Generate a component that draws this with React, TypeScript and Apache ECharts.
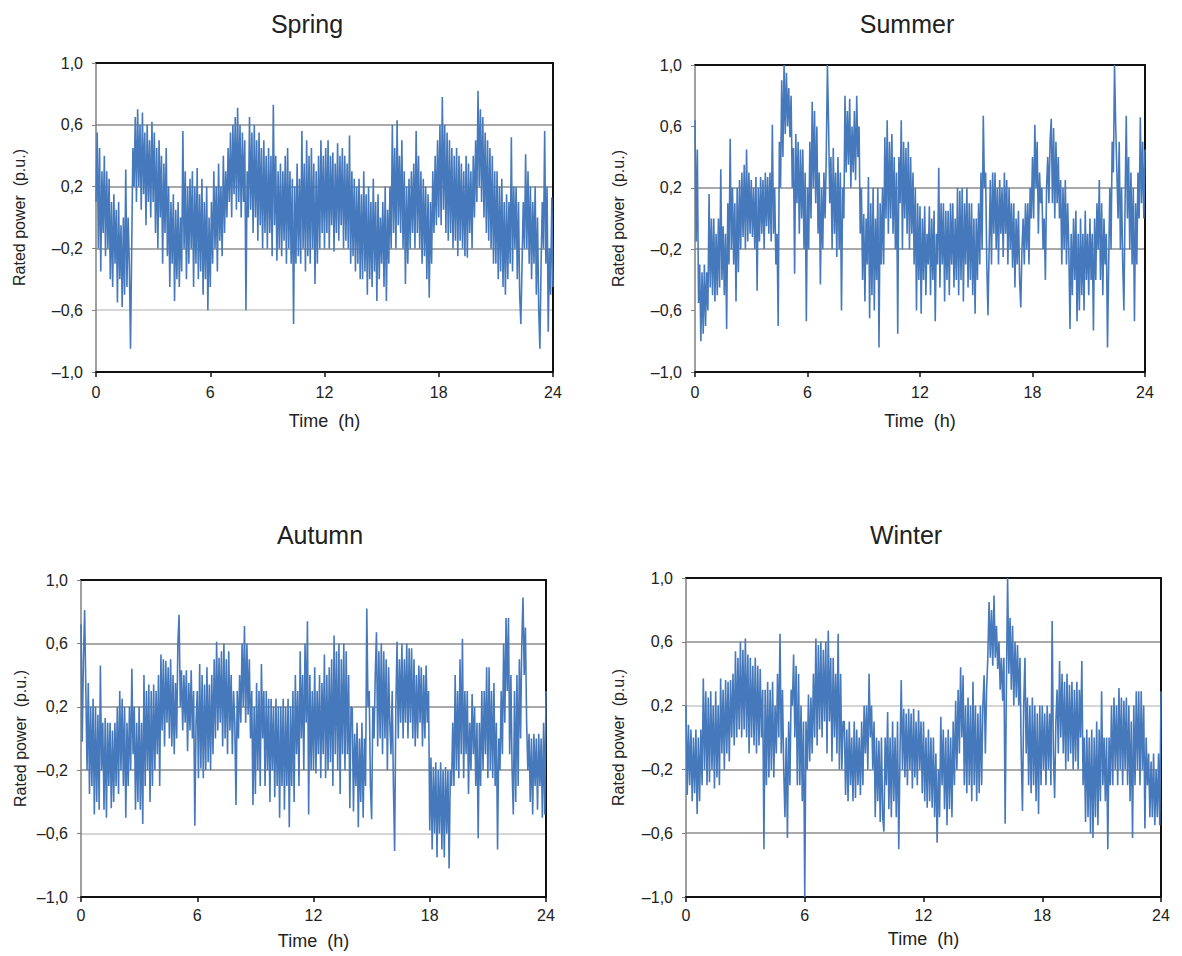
import React, { useEffect, useRef } from "react";
import * as echarts from "echarts";

const X_TICKS = [0, 6, 12, 18, 24];
const Y_TICKS = [-1.0, -0.6, -0.2, 0.2, 0.6, 1.0];
const TITLES = ["Spring", "Summer", "Autumn", "Winter"];

// rated power (p.u.), 16 readings per hour from 0 h to 24 h
const spring = [
  0.1, 0.55, -0.2, 0.45, -0.35, 0.3, -0.1, 0.4, -0.25, 0.3, -0.2, 0.25, -0.4, 0.1, -0.45, 0.15,
  -0.3, 0.05, -0.55, 0.1, -0.4, -0.05, -0.58, 0.0, -0.5, 0.31, -0.45, 0.0, -0.3, -0.85, -0.2, 0.45,
  0.2, 0.65, 0.1, 0.7, 0.2, 0.6, 0.05, 0.68, 0.15, 0.55, -0.05, 0.6, 0.1, 0.5, 0.0, 0.62,
  0.1, 0.55, -0.1, 0.45, -0.2, 0.5, 0.0, 0.4, -0.3, 0.35, -0.1, 0.45, -0.25, 0.2, -0.45, 0.1,
  -0.3, 0.15, -0.54, 0.05, -0.4, 0.1, -0.45, 0.0, -0.35, 0.56, -0.2, 0.3, -0.4, 0.2, -0.3, 0.25,
  -0.2, 0.3, -0.45, 0.2, -0.3, 0.32, -0.4, 0.15, -0.35, 0.25, -0.5, 0.1, -0.4, 0.2, -0.6, 0.0,
  -0.45, 0.1, -0.3, 0.3, -0.2, 0.2, -0.35, 0.35, -0.15, 0.2, -0.25, 0.4, -0.1, 0.3, 0.0, 0.45,
  0.1, 0.55, 0.0, 0.6, 0.15, 0.65, 0.05, 0.71, 0.1, 0.6, 0.0, 0.55, 0.1, 0.5, -0.6, 0.3,
  0.0, 0.65, 0.05, 0.55, -0.1, 0.6, 0.0, 0.5, -0.15, 0.55, -0.05, 0.45, -0.2, 0.5, -0.1, 0.4,
  -0.2, 0.45, -0.1, 0.4, -0.25, 0.73, -0.05, 0.4, -0.28, 0.3, -0.2, 0.35, -0.25, 0.3, -0.15, 0.4,
  -0.3, 0.45, -0.2, 0.3, -0.3, 0.25, -0.69, 0.2, -0.3, 0.35, -0.25, 0.25, -0.3, 0.56, -0.2, 0.35,
  -0.35, 0.5, -0.25, 0.4, -0.3, 0.45, -0.2, 0.35, -0.43, 0.3, -0.3, 0.4, -0.2, 0.5, -0.1, 0.4,
  -0.2, 0.45, -0.1, 0.5, -0.2, 0.4, -0.05, 0.42, -0.22, 0.35, -0.1, 0.48, -0.15, 0.4, -0.05, 0.45,
  -0.2, 0.4, -0.15, 0.35, -0.2, 0.53, -0.3, 0.3, -0.25, 0.25, -0.35, 0.2, -0.3, 0.25, -0.4, 0.15,
  -0.4, 0.3, -0.35, 0.15, -0.5, 0.2, -0.4, 0.1, -0.45, 0.25, -0.35, 0.1, -0.54, 0.15, -0.4, 0.0,
  -0.3, 0.1, -0.45, 0.2, -0.54, 0.05, -0.3, 0.2, -0.2, 0.6, -0.1, 0.45, -0.2, 0.63, -0.05, 0.4,
  -0.1, 0.5, -0.2, 0.3, -0.43, 0.2, -0.3, 0.25, -0.2, 0.3, -0.1, 0.35, -0.2, 0.56, -0.1, 0.4,
  -0.2, 0.3, -0.3, 0.25, -0.25, 0.2, -0.4, 0.15, -0.52, 0.1, -0.3, 0.3, -0.1, 0.4, -0.05, 0.5,
  0.0, 0.6, -0.05, 0.78, 0.05, 0.6, -0.1, 0.55, -0.15, 0.5, -0.1, 0.45, -0.2, 0.4, -0.15, 0.45,
  -0.25, 0.4, -0.15, 0.35, -0.2, 0.3, -0.25, 0.4, -0.26, 0.35, -0.1, 0.3, -0.2, 0.4, 0.0, 0.5,
  0.1, 0.82, 0.2, 0.7, 0.1, 0.65, 0.0, 0.55, -0.1, 0.5, -0.15, 0.45, -0.2, 0.4, -0.3, 0.3,
  -0.3, 0.3, -0.4, 0.2, -0.35, 0.25, -0.45, 0.1, -0.5, 0.15, -0.4, 0.1, -0.3, 0.52, -0.35, 0.2,
  -0.2, 0.2, -0.4, 0.1, -0.5, -0.69, -0.3, 0.1, -0.2, 0.41, -0.2, 0.3, -0.3, 0.2, -0.4, 0.1,
  -0.3, 0.2, -0.5, 0.0, -0.6, -0.85, -0.3, 0.1, -0.2, 0.56, -0.3, 0.2, -0.74, -0.2, -0.5, 0.13,
  -0.45,
];

const summer = [
  0.64, -0.15, 0.45, -0.55, -0.3, -0.8, -0.35, -0.75, -0.3, -0.7, -0.35, -0.6, 0.16, -0.45, 0.0, -0.5,
  0.0, -0.54, -0.1, -0.5, 0.0, -0.45, 0.32, -0.4, -0.05, -0.5, -0.1, -0.72, 0.1, -0.3, 0.52, -0.2,
  0.2, -0.3, 0.1, -0.54, 0.2, -0.35, 0.25, -0.2, 0.3, -0.12, 0.35, -0.2, 0.45, -0.15, 0.3, -0.1,
  0.25, -0.12, 0.2, -0.2, 0.27, -0.47, 0.2, -0.15, 0.27, -0.1, 0.25, -0.2, 0.3, -0.05, 0.27, -0.1,
  0.3, -0.15, 0.61, -0.1, 0.2, -0.3, -0.1, -0.7, 0.5, 0.2, 0.9, 0.4, 1.0, 0.55, 0.95, 0.6,
  0.85, 0.53, 0.8, 0.2, 0.46, -0.36, 0.55, 0.1, 0.5, -0.1, 0.45, 0.0, 0.45, -0.2, 0.3, -0.67,
  0.2, -0.2, 0.5, 0.0, 0.76, 0.2, 0.7, 0.1, 0.6, -0.1, 0.3, -0.43, 0.2, -0.2, 0.3, 0.0,
  0.4, 1.0, 0.6, 0.1, 0.4, -0.2, 0.46, -0.1, 0.3, -0.25, 0.4, -0.2, 0.3, -0.6, 0.2, 0.0,
  0.8, 0.3, 0.7, 0.35, 0.78, 0.2, 0.6, 0.3, 0.7, 0.25, 0.8, 0.4, 0.6, -0.1, 0.2, -0.4,
  0.03, -0.54, 0.0, -0.3, 0.27, -0.65, 0.1, -0.5, 0.2, -0.6, 0.0, -0.4, 0.2, -0.84, 0.1, -0.3,
  0.2, -0.3, 0.53, 0.0, 0.64, -0.1, 0.5, 0.0, 0.55, -0.1, 0.4, -0.2, 0.3, -0.75, 0.4, 0.1,
  0.64, -0.2, 0.5, 0.0, 0.46, -0.1, 0.5, -0.2, 0.4, -0.1, 0.3, -0.3, 0.2, -0.6, 0.1, -0.4,
  0.08, -0.62, 0.0, -0.4, 0.08, -0.5, -0.1, -0.3, 0.08, -0.5, 0.0, -0.4, 0.05, -0.67, -0.1, -0.3,
  0.33, -0.45, 0.1, -0.3, 0.1, -0.54, 0.05, -0.4, 0.05, -0.5, 0.1, -0.3, 0.1, -0.45, 0.0, -0.4,
  0.2, -0.5, 0.18, -0.4, 0.2, -0.54, 0.1, -0.3, 0.2, -0.45, 0.1, -0.4, 0.1, -0.5, 0.0, -0.62,
  0.0, -0.4, 0.1, -0.3, 0.3, -0.2, 0.67, 0.2, 0.3, -0.3, -0.63, -0.2, 0.25, -0.3, 0.3, -0.1,
  0.3, -0.2, 0.2, -0.3, 0.25, -0.1, 0.2, -0.25, 0.3, -0.1, 0.25, -0.3, 0.2, -0.2, 0.1, -0.32,
  0.1, -0.45, 0.0, -0.3, 0.05, -0.4, -0.58, -0.2, 0.0, -0.3, 0.1, -0.2, 0.1, -0.3, 0.2, 0.0,
  0.4, 0.0, 0.61, 0.2, 0.5, -0.1, 0.3, 0.1, 0.2, -0.2, 0.0, -0.4, 0.2, 0.4, 0.1, 0.5,
  0.65, 0.1, 0.59, 0.0, 0.5, 0.1, 0.4, 0.0, 0.25, -0.3, 0.2, -0.2, 0.25, -0.3, 0.1, -0.2,
  -0.72, -0.1, -0.5, 0.0, -0.4, 0.05, -0.67, -0.1, -0.6, 0.0, -0.5, -0.1, -0.6, 0.05, -0.4, -0.1,
  -0.5, 0.0, -0.4, -0.1, -0.73, 0.0, -0.4, 0.1, -0.2, 0.25, -0.4, 0.1, -0.5, 0.0, -0.3, -0.1,
  -0.84, -0.3, 0.2, -0.2, 0.5, 0.3, 1.0, 0.6, 0.3, 0.0, 0.5, -0.2, 0.2, -0.3, -0.6, 0.1,
  0.67, 0.0, 0.4, -0.2, 0.3, -0.3, 0.2, -0.67, 0.1, -0.3, 0.3, 0.0, 0.66, 0.1, 0.5, 0.0,
  0.45,
];

const autumn = [
  0.72, -0.02, 0.5, 0.81, 0.3, -0.2, 0.35, -0.35, 0.2, -0.3, 0.25, -0.48, 0.2, -0.4, 0.15, -0.45,
  0.46, -0.2, 0.1, -0.45, 0.13, -0.5, 0.1, -0.3, 0.1, -0.44, 0.05, -0.4, 0.1, -0.3, 0.2, -0.35,
  0.3, -0.2, 0.25, -0.3, 0.2, -0.5, 0.1, -0.3, 0.2, -0.2, 0.44, -0.1, 0.2, -0.45, 0.1, -0.4,
  0.2, -0.45, 0.1, -0.54, 0.4, -0.3, 0.3, -0.2, 0.34, -0.4, 0.3, -0.3, 0.34, -0.2, 0.3, -0.1,
  0.4, -0.3, 0.53, 0.05, 0.5, -0.05, 0.49, 0.1, 0.45, 0.0, 0.5, -0.05, 0.4, -0.1, 0.35, 0.0,
  0.6, 0.78, 0.2, 0.43, 0.05, 0.4, 0.1, 0.43, -0.08, 0.35, 0.05, 0.43, 0.0, 0.3, -0.55, 0.1,
  0.3, -0.25, 0.47, -0.19, 0.4, -0.25, 0.34, -0.2, 0.45, -0.15, 0.34, -0.2, 0.4, -0.1, 0.5, 0.0,
  0.61, 0.05, 0.51, 0.1, 0.55, -0.05, 0.6, 0.0, 0.5, -0.1, 0.55, 0.05, 0.4, -0.1, 0.3, 0.1,
  -0.42, 0.3, 0.0, 0.4, 0.1, 0.6, 0.2, 0.71, 0.1, 0.6, 0.15, 0.5, 0.0, 0.3, -0.42, 0.2,
  -0.35, 0.35, -0.2, 0.3, -0.3, 0.47, 0.0, 0.3, -0.3, 0.3, -0.2, 0.25, -0.4, 0.25, -0.2, 0.2,
  -0.37, 0.25, -0.3, 0.2, -0.5, 0.2, -0.3, 0.25, -0.45, 0.2, -0.3, 0.25, -0.56, 0.2, -0.3, 0.3,
  -0.4, 0.4, -0.1, 0.3, -0.3, 0.55, 0.0, 0.4, -0.2, 0.6, 0.1, 0.74, -0.48, 0.4, -0.2, 0.3,
  -0.2, 0.45, -0.22, 0.3, -0.1, 0.4, -0.25, 0.35, -0.1, 0.53, -0.25, 0.4, -0.2, 0.45, -0.15, 0.5,
  -0.3, 0.65, -0.1, 0.55, -0.2, 0.6, -0.35, 0.5, -0.1, 0.6, -0.2, 0.55, -0.1, 0.4, -0.44, 0.2,
  0.19, -0.46, 0.03, -0.3, 0.1, -0.56, 0.0, -0.4, 0.1, -0.5, 0.0, -0.3, 0.82, 0.2, 0.3, -0.3,
  -0.51, 0.2, 0.0, 0.4, 0.67, -0.05, 0.55, 0.0, 0.6, -0.1, 0.55, 0.0, 0.5, -0.2, 0.45, 0.1,
  -0.1, 0.3, -0.3, -0.71, 0.2, 0.61, 0.0, 0.5, 0.1, 0.6, 0.0, 0.5, 0.1, 0.6, 0.0, 0.57,
  0.1, 0.57, 0.0, 0.5, -0.05, 0.4, 0.0, 0.46, 0.1, 0.45, -0.05, 0.4, 0.0, 0.46, 0.1, 0.3,
  -0.58, -0.12, -0.7, -0.18, -0.6, -0.15, -0.75, -0.2, -0.6, -0.15, -0.7, -0.2, -0.75, -0.18, -0.6, -0.2,
  -0.82, -0.2, -0.3, 0.1, -0.3, 0.4, -0.2, 0.3, -0.25, 0.5, -0.1, 0.63, -0.25, 0.3, -0.1, 0.3,
  -0.35, 0.1, -0.2, 0.28, -0.1, 0.2, -0.3, 0.1, -0.63, 0.1, -0.3, 0.3, -0.2, 0.3, -0.1, 0.45,
  -0.25, 0.45, -0.2, 0.3, -0.25, 0.35, -0.3, 0.1, -0.7, 0.0, -0.2, 0.3, -0.1, 0.6, 0.1, 0.76,
  0.3, 0.76, -0.1, 0.4, -0.2, -0.48, 0.3, -0.4, 0.4, -0.3, 0.5, 0.0, 0.6, 0.89, 0.4, 0.7,
  0.1, -0.2, 0.03, -0.4, 0.0, -0.48, 0.03, -0.3, 0.0, -0.45, 0.03, -0.3, 0.0, -0.5, 0.1, -0.48,
  0.3,
];

const winter = [
  0.2, -0.36, 0.08, -0.3, 0.05, -0.4, 0.0, -0.35, 0.05, -0.48, 0.0, -0.4, 0.05, -0.3, 0.37, -0.2,
  0.29, -0.3, 0.25, -0.28, 0.29, -0.2, 0.2, -0.32, 0.29, -0.25, 0.2, -0.3, 0.37, -0.1, 0.3, -0.2,
  0.36, -0.1, 0.35, -0.15, 0.36, 0.0, 0.4, -0.05, 0.54, 0.0, 0.5, 0.05, 0.6, 0.0, 0.55, 0.05,
  0.62, 0.0, 0.52, -0.1, 0.5, 0.0, 0.45, -0.05, 0.5, -0.1, 0.45, -0.05, 0.43, 0.0, 0.3, -0.7,
  0.3, -0.3, 0.35, -0.25, 0.3, -0.2, 0.35, -0.25, 0.2, -0.1, 0.4, 0.0, 0.65, -0.1, 0.3, -0.2,
  -0.5, 0.0, -0.63, 0.1, -0.3, 0.3, 0.2, 0.52, 0.0, 0.45, -0.3, 0.4, -0.3, 0.2, -0.4, 0.1,
  -1.0, 0.1, -0.2, 0.27, -0.15, 0.25, -0.1, 0.4, 0.0, 0.62, -0.05, 0.58, 0.05, 0.6, 0.0, 0.55,
  0.1, 0.6, -0.1, 0.67, 0.1, 0.5, -0.15, 0.5, 0.0, 0.4, -0.1, 0.65, -0.2, 0.4, -0.2, 0.1,
  0.1, -0.36, 0.05, -0.4, 0.1, -0.3, 0.0, -0.4, 0.1, -0.38, 0.05, -0.3, 0.0, -0.36, 0.1, -0.3,
  0.2, -0.1, 0.2, -0.2, 0.4, 0.0, 0.2, -0.2, 0.1, -0.5, 0.0, -0.4, -0.02, -0.53, 0.0, -0.5,
  -0.59, 0.0, -0.3, 0.16, -0.45, 0.0, -0.5, 0.1, -0.4, 0.0, -0.5, 0.1, -0.7, -0.1, 0.36, -0.2,
  0.18, -0.25, 0.15, -0.3, 0.18, -0.2, 0.15, -0.32, 0.18, -0.25, 0.1, -0.3, 0.17, -0.2, 0.1, -0.35,
  0.1, -0.4, 0.0, -0.44, 0.05, -0.4, 0.0, -0.44, 0.0, -0.5, -0.1, -0.66, -0.2, -0.5, 0.13, -0.3,
  0.05, -0.45, 0.0, -0.55, 0.05, -0.45, 0.0, -0.5, 0.1, -0.3, 0.23, -0.2, 0.3, -0.1, 0.44, 0.0,
  0.39, -0.3, 0.2, -0.35, 0.25, -0.3, 0.2, -0.4, 0.35, -0.3, 0.2, -0.4, 0.15, -0.35, 0.2, -0.3,
  0.2, 0.39, -0.1, 0.3, 0.5, 0.85, 0.5, 0.8, 0.45, 0.89, 0.5, 0.7, 0.43, 0.6, 0.3, 0.5,
  0.23, 0.5, -0.54, 0.3, 1.0, 0.4, 0.75, 0.3, 0.7, 0.2, 0.6, 0.25, 0.58, 0.2, 0.5, -0.1,
  -0.46, 0.2, 0.5, -0.1, 0.25, -0.3, 0.2, -0.35, 0.25, -0.3, 0.2, -0.4, 0.15, -0.48, 0.2, -0.3,
  0.2, -0.2, 0.15, -0.3, 0.2, -0.2, 0.15, -0.3, 0.73, -0.1, -0.38, 0.1, 0.3, -0.1, 0.48, 0.0,
  0.4, -0.1, 0.35, -0.2, 0.4, -0.15, 0.33, -0.1, 0.35, -0.2, 0.3, -0.15, 0.35, -0.2, 0.3, 0.0,
  0.48, -0.3, 0.0, -0.53, 0.05, -0.5, 0.0, -0.6, 0.05, -0.63, 0.0, -0.5, 0.1, -0.55, 0.05, -0.4,
  0.29, -0.3, 0.0, -0.4, 0.0, -0.7, 0.0, -0.3, 0.2, -0.3, 0.25, -0.2, 0.2, -0.3, 0.31, -0.2,
  0.25, -0.3, 0.23, -0.2, 0.25, -0.3, 0.2, -0.4, 0.1, -0.63, 0.2, -0.3, 0.29, -0.2, 0.29, -0.3,
  0.29, -0.2, 0.2, -0.57, 0.0, -0.3, -0.1, -0.5, -0.15, -0.5, -0.1, -0.55, -0.2, -0.5, -0.1, -0.55,
  0.29,
];

const SEASONS = [spring, summer, autumn, winter];

// layout (pixels) of the four plot areas
const GRIDS = [
  { left: 96, top: 63, width: 457, height: 309, nameGapY: 69, nameGapX: 40, titleX: 307, titleY: 11, labelMarginX: 12 },
  { left: 695, top: 65, width: 450, height: 307, nameGapY: 69, nameGapX: 40, titleX: 907, titleY: 11, labelMarginX: 12 },
  { left: 81, top: 580, width: 465, height: 317, nameGapY: 53, nameGapX: 35, titleX: 320, titleY: 522, labelMarginX: 10 },
  { left: 686, top: 578, width: 475, height: 319, nameGapY: 60, nameGapX: 33, titleX: 906, titleY: 522, labelMarginX: 10 },
];

// gridline colours for ticks -1.0, -0.6, -0.2, 0.2, 0.6, 1.0
const NONE = "rgba(0,0,0,0)";
const SPLIT_COLORS = [
  [NONE, "#c8c8c8", "#8c8c8c", "#8c8c8c", "#8c8c8c", NONE],
  [NONE, NONE, "#8c8c8c", "#8c8c8c", NONE, NONE],
  [NONE, "#c8c8c8", "#8c8c8c", "#8c8c8c", "#8c8c8c", NONE],
  [NONE, "#8c8c8c", "#8c8c8c", "#c8c8c8", "#8c8c8c", NONE],
];

const FONT = "Liberation Sans, Arial, sans-serif";
const TEXT = "#222";
const LINE = "#4679bb";

const fmtY = (v: number) => {
  const s = Math.abs(v).toFixed(1).replace(".", ",");
  return v < -0.001 ? "\u2013" + s : s;
};

export default function App() {
  const ref = useRef<HTMLDivElement>(null);

  useEffect(() => {
    if (!ref.current) return;
    const chart = echarts.init(ref.current, undefined, { renderer: "svg" });

    const grid = GRIDS.map((g) => ({ left: g.left, top: g.top, width: g.width, height: g.height, show: false }));

    const xAxis: any[] = [];
    const yAxis: any[] = [];
    GRIDS.forEach((g, i) => {
      xAxis.push({
        type: "value",
        gridIndex: i,
        min: X_TICKS[0],
        max: X_TICKS[X_TICKS.length - 1],
        interval: 6,
        name: "Time  (h)",
        nameLocation: "middle",
        nameGap: g.nameGapX,
        nameTextStyle: { fontFamily: FONT, fontSize: 18, color: TEXT },
        axisLine: { show: true, onZero: false, lineStyle: { color: "#111", width: 2 } },
        axisTick: { show: true, length: 5, lineStyle: { color: "#111", width: 1.5 } },
        axisLabel: { fontFamily: FONT, fontSize: 16, color: TEXT, margin: g.labelMarginX },
        splitLine: { show: false },
      });
      yAxis.push({
        type: "value",
        gridIndex: i,
        min: Y_TICKS[0],
        max: Y_TICKS[Y_TICKS.length - 1],
        interval: 0.4,
        name: "Rated power  (p.u.)",
        nameLocation: "middle",
        nameGap: g.nameGapY,
        nameTextStyle: { fontFamily: FONT, fontSize: 16, color: TEXT },
        axisLine: { show: true, onZero: false, lineStyle: { color: "#808080", width: 1.5 } },
        axisTick: { show: true, length: 4, lineStyle: { color: "#808080" } },
        axisLabel: { fontFamily: FONT, fontSize: 16, color: TEXT, margin: 13, formatter: fmtY },
        splitLine: { show: true, lineStyle: { color: SPLIT_COLORS[i], width: 1.5 } },
      });
    });
    // black frame on top and right of each plot
    GRIDS.forEach((g, i) => {
      xAxis.push({
        type: "value",
        gridIndex: i,
        position: "top",
        min: 0,
        max: 1,
        axisLine: { show: true, onZero: false, lineStyle: { color: "#111", width: 2 } },
        axisTick: { show: false },
        axisLabel: { show: false },
        splitLine: { show: false },
      });
      yAxis.push({
        type: "value",
        gridIndex: i,
        position: "right",
        min: 0,
        max: 1,
        axisLine: { show: true, onZero: false, lineStyle: { color: "#111", width: 2 } },
        axisTick: { show: false },
        axisLabel: { show: false },
        splitLine: { show: false },
      });
    });

    const series = SEASONS.map((vals, i) => {
      const step = X_TICKS[X_TICKS.length - 1] / (vals.length - 1);
      return {
        type: "line",
        name: TITLES[i],
        xAxisIndex: i,
        yAxisIndex: i,
        showSymbol: false,
        symbol: "none",
        z: 3,
        lineStyle: { color: LINE, width: 1.6 },
        data: vals.map((v, k) => [k * step, v]),
      };
    });

    const title = GRIDS.map((g, i) => ({
      text: TITLES[i],
      left: g.titleX,
      top: g.titleY,
      padding: 0,
      textAlign: "center",
      textStyle: { fontFamily: FONT, fontSize: 25, fontWeight: "normal", color: TEXT },
    }));

    chart.setOption({
      animation: false,
      backgroundColor: "#ffffff",
      title,
      grid,
      xAxis,
      yAxis,
      series,
    });

    return () => chart.dispose();
  }, []);

  return (
    <div
      ref={ref}
      style={{ position: "absolute", left: 0, top: 0, width: 1182, height: 956 }}
    />
  );
}
